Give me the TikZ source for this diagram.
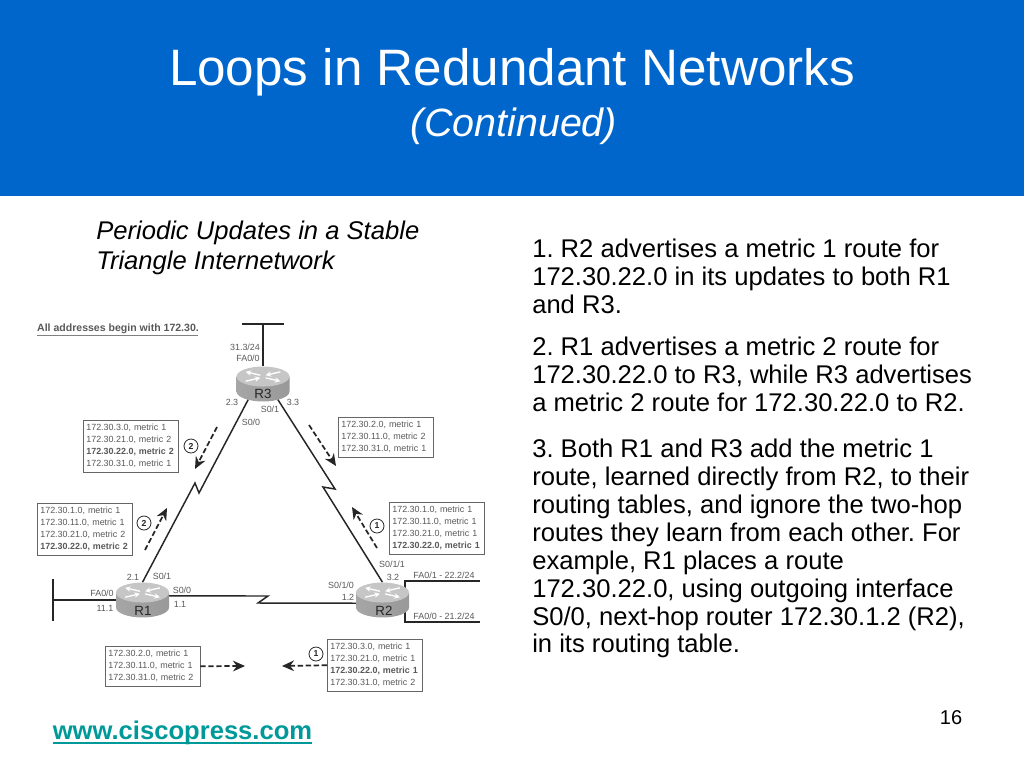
\documentclass[tikz,border=0pt]{standalone}
\usepackage{fontspec}
\setmainfont{Liberation Sans}
\usetikzlibrary{shapes.geometric,arrows.meta}
\definecolor{slideblue}{RGB}{0,102,204}
\definecolor{linkteal}{RGB}{0,153,153}
\definecolor{wiregray}{gray}{0.15}
\definecolor{labelgray}{gray}{0.35}
\newcommand{\fsz}[2]{\fontsize{#1}{#2}\selectfont}
\tikzset{
  router/.style={ellipse, minimum width=39.75pt, minimum height=26.25pt, inner sep=0pt},
  routername/.style={text=wiregray, font=\fsz{10}{10}},
  rlabel/.style={text=labelgray, font=\fsz{6.7}{7}, inner sep=0pt},
  routes/.style={draw=gray!80!black, line width=.6pt, anchor=north west, align=left, text width=66.5pt,
    text=labelgray, font=\fsz{6.7}{9}, inner ysep=3pt, inner xsep=2.2pt},
  step num/.style={circle, draw=wiregray, line width=.6pt, text=wiregray, inner sep=0pt,
    minimum size=10.5pt, font=\fsz{6.5}{6.5}\bfseries},
  wire/.style={draw=wiregray, line width=1.1pt},
  update/.style={draw=wiregray, line width=1.3pt, dash pattern=on 4pt off 2pt, -{Stealth[length=9pt,width=8pt]}},
  bodytext/.style={anchor=north west, align=left, inner sep=0pt, font=\fsz{19.2}{20.9}}
}
\begin{document}
\frenchspacing
\begin{tikzpicture}[x=.75pt,y=-.75pt]
  \useasboundingbox (0,0) rectangle (1024,768);
  \fill[white] (0,0) rectangle (1024,768);
  \fill[slideblue] (0,0) rectangle (1024,196);
  \node[text=white, font=\fsz{38.4}{42}] (title) at (512,72) {Loops in Redundant Networks};
  \node[text=white, font=\fsz{29.6}{32}\itshape] (subtitle) at (514,126) {(Continued)};

  \node[anchor=north west, align=left, inner sep=0pt, font=\fsz{19.2}{22.5}\itshape] (caption) at (96,221)
    {Periodic Updates in a Stable\\Triangle Internetwork};
  \node[bodytext] (first) at (532,239)
    {1. R2 advertises a metric 1 route for\\172.30.22.0 in its updates to both R1\\and R3.};
  \node[bodytext] (second) at (532,337)
    {2. R1 advertises a metric 2 route for\\172.30.22.0 to R3, while R3 advertises\\a metric 2 route for 172.30.22.0 to R2.};
  \node[bodytext] (third) at (532,439)
    {3. Both R1 and R3 add the metric 1\\route, learned directly from R2, to their\\routing tables, and ignore the two-hop\\routes they learn from each other. For\\example, R1 places a route\\172.30.22.0, using outgoing interface\\S0/0, next-hop router 172.30.1.2 (R2),\\in its routing table.};
  \node[text=linkteal, font=\fsz{19.2}{21}\bfseries] (site) at (182.5,733) {www.ciscopress.com};
  \draw[linkteal, line width=1pt] (53,743) -- (312,743);
  \node[font=\fsz{15}{16}] (page) at (951,718) {16};

  \node[font=\fsz{7.9}{9}\bfseries, text=gray!70!black, inner sep=0pt] (note) at (118,329) {All addresses begin with 172.30.};
  \draw[gray, line width=.7pt] (37,335) -- (198,335);

  % routers
  \node[router] (R1) at (142.5,600) {};
  \node[router] (R2) at (382.5,600) {};
  \node[router] (R3) at (263,384) {};

  % serial links
  \coordinate (zigA) at (199,493);
  \coordinate (zigB) at (195,483);
  \draw[wire] (R3.226) -- (zigA) -- (zigB) -- (R1.90);
  \coordinate (zigC) at (335,489);
  \coordinate (zigD) at (323,487);
  \draw[wire] (R3.-46) -- (zigC) -- (zigD) -- (R2.90);
  \coordinate (zigE) at (268,596);
  \coordinate (zigF) at (258,603);
  \draw[wire] (R1.9) -- (zigE) -- (zigF) -- (R2.187);

  % lans
  \coordinate (lanR3a) at (242,324);
  \coordinate (lanR3b) at (284,324);
  \coordinate (lanR3c) at (263,324);
  \draw[wire] (lanR3a) -- (lanR3b);
  \draw[wire] (lanR3c) -- (R3.90);
  \coordinate (lanR1a) at (53,579);
  \coordinate (lanR1b) at (53,621);
  \coordinate (lanR1c) at (53,600);
  \draw[wire] (lanR1a) -- (lanR1b);
  \draw[wire] (lanR1c) -- (R1.180);
  \coordinate (lanR2a) at (480,581);
  \coordinate (lanR2b) at (480,622);
  \draw[wire] (R2.23) |- (lanR2a);
  \draw[wire] (R2.-23) |- (lanR2b);

  % router bodies
  \foreach \r in {R1,R2,R3} {
    \shade[left color=gray!70, middle color=gray!10, right color=gray!80]
      ([shift={(-19.875pt,5.6pt)}]\r.center) -- ([shift={(-19.875pt,-5.6pt)}]\r.center)
      arc[start angle=180, end angle=360, x radius=19.875pt, y radius=7.5pt]
      -- ([shift={(19.875pt,5.6pt)}]\r.center) -- cycle;
    \fill[gray!45] ([yshift=5.6pt]\r.center) ellipse [x radius=19.875pt, y radius=7.5pt];
    \begin{scope}[shift={([yshift=5.6pt]\r.center)}, white, line width=1pt, -{Stealth[length=4pt,width=4pt]}]
      \draw (-2pt,1pt) -- (-13pt,3.5pt);
      \draw (13pt,3.5pt) -- (2pt,1pt);
      \draw (-13pt,-3.5pt) -- (-2pt,-1pt);
      \draw (2pt,-1pt) -- (13pt,-3.5pt);
    \end{scope}
  }
  \node[routername] (nameR1) at (143,611) {R1};
  \node[routername] (nameR2) at (384,611) {R2};
  \node[routername] (nameR3) at (263,394) {R3};

  % interface labels
  \node[rlabel] (l1) at (245,347) {31.3/24};
  \node[rlabel] (l2) at (248,358) {FA0/0};
  \node[rlabel] (l3) at (232,402) {2.3};
  \node[rlabel] (l4) at (270,409) {S0/1};
  \node[rlabel] (l5) at (251,422) {S0/0};
  \node[rlabel] (l6) at (293,402) {3.3};
  \node[rlabel] (l7) at (133,577) {2.1};
  \node[rlabel] (l8) at (162,576) {S0/1};
  \node[rlabel] (l9) at (102,593) {FA0/0};
  \node[rlabel] (l10) at (105,608) {11.1};
  \node[rlabel] (l11) at (182,590) {S0/0};
  \node[rlabel] (l12) at (180,604) {1.1};
  \node[rlabel] (l13) at (392,564) {S0/1/1};
  \node[rlabel] (l14) at (393,577) {3.2};
  \node[rlabel] (l15) at (341,585) {S0/1/0};
  \node[rlabel] (l16) at (348,597) {1.2};
  \node[rlabel] (l17) at (444,575) {FA0/1 - 22.2/24};
  \node[rlabel] (l18) at (444,616) {FA0/0 - 21.2/24};

  % route boxes
  \node[routes] (boxA) at (83,420) {172.30.3.0, metric 1\\172.30.21.0, metric 2\\\textbf{172.30.22.0, metric 2}\\172.30.31.0, metric 1};
  \node[routes] (boxB) at (338,417) {172.30.2.0, metric 1\\172.30.11.0, metric 2\\172.30.31.0, metric 1};
  \node[routes] (boxC) at (37,503) {172.30.1.0, metric 1\\172.30.11.0, metric 1\\172.30.21.0, metric 2\\\textbf{172.30.22.0, metric 2}};
  \node[routes] (boxD) at (389,502) {172.30.1.0, metric 1\\172.30.11.0, metric 1\\172.30.21.0, metric 1\\\textbf{172.30.22.0, metric 1}};
  \node[routes] (boxE) at (105,646) {172.30.2.0, metric 1\\172.30.11.0, metric 1\\172.30.31.0, metric 2};
  \node[routes] (boxF) at (327,639) {172.30.3.0, metric 1\\172.30.21.0, metric 1\\\textbf{172.30.22.0, metric 1}\\172.30.31.0, metric 2};

  % updates
  \node[step num] (stepA) at (191,446) {2};
  \node[step num] (stepB) at (144,523) {2};
  \node[step num] (stepC) at (377,526) {1};
  \node[step num] (stepD) at (316,654) {1};
  \coordinate (updA) at (217,427);
  \coordinate (updAend) at (195,469);
  \coordinate (updB) at (309,425);
  \coordinate (updBend) at (336,466);
  \coordinate (updC) at (145,550);
  \coordinate (updCend) at (167,508);
  \coordinate (updD) at (377,548);
  \coordinate (updDend) at (352,507);
  \coordinate (updEend) at (245,666);
  \coordinate (updFend) at (282,666);
  \draw[update] (updA) -- (updAend);
  \draw[update] (updB) -- (updBend);
  \draw[update] (updC) -- (updCend);
  \draw[update] (updD) -- (updDend);
  \draw[update] (boxE.east) -- (updEend);
  \draw[update] (boxF.west) -- (updFend);
\end{tikzpicture}
\end{document}
